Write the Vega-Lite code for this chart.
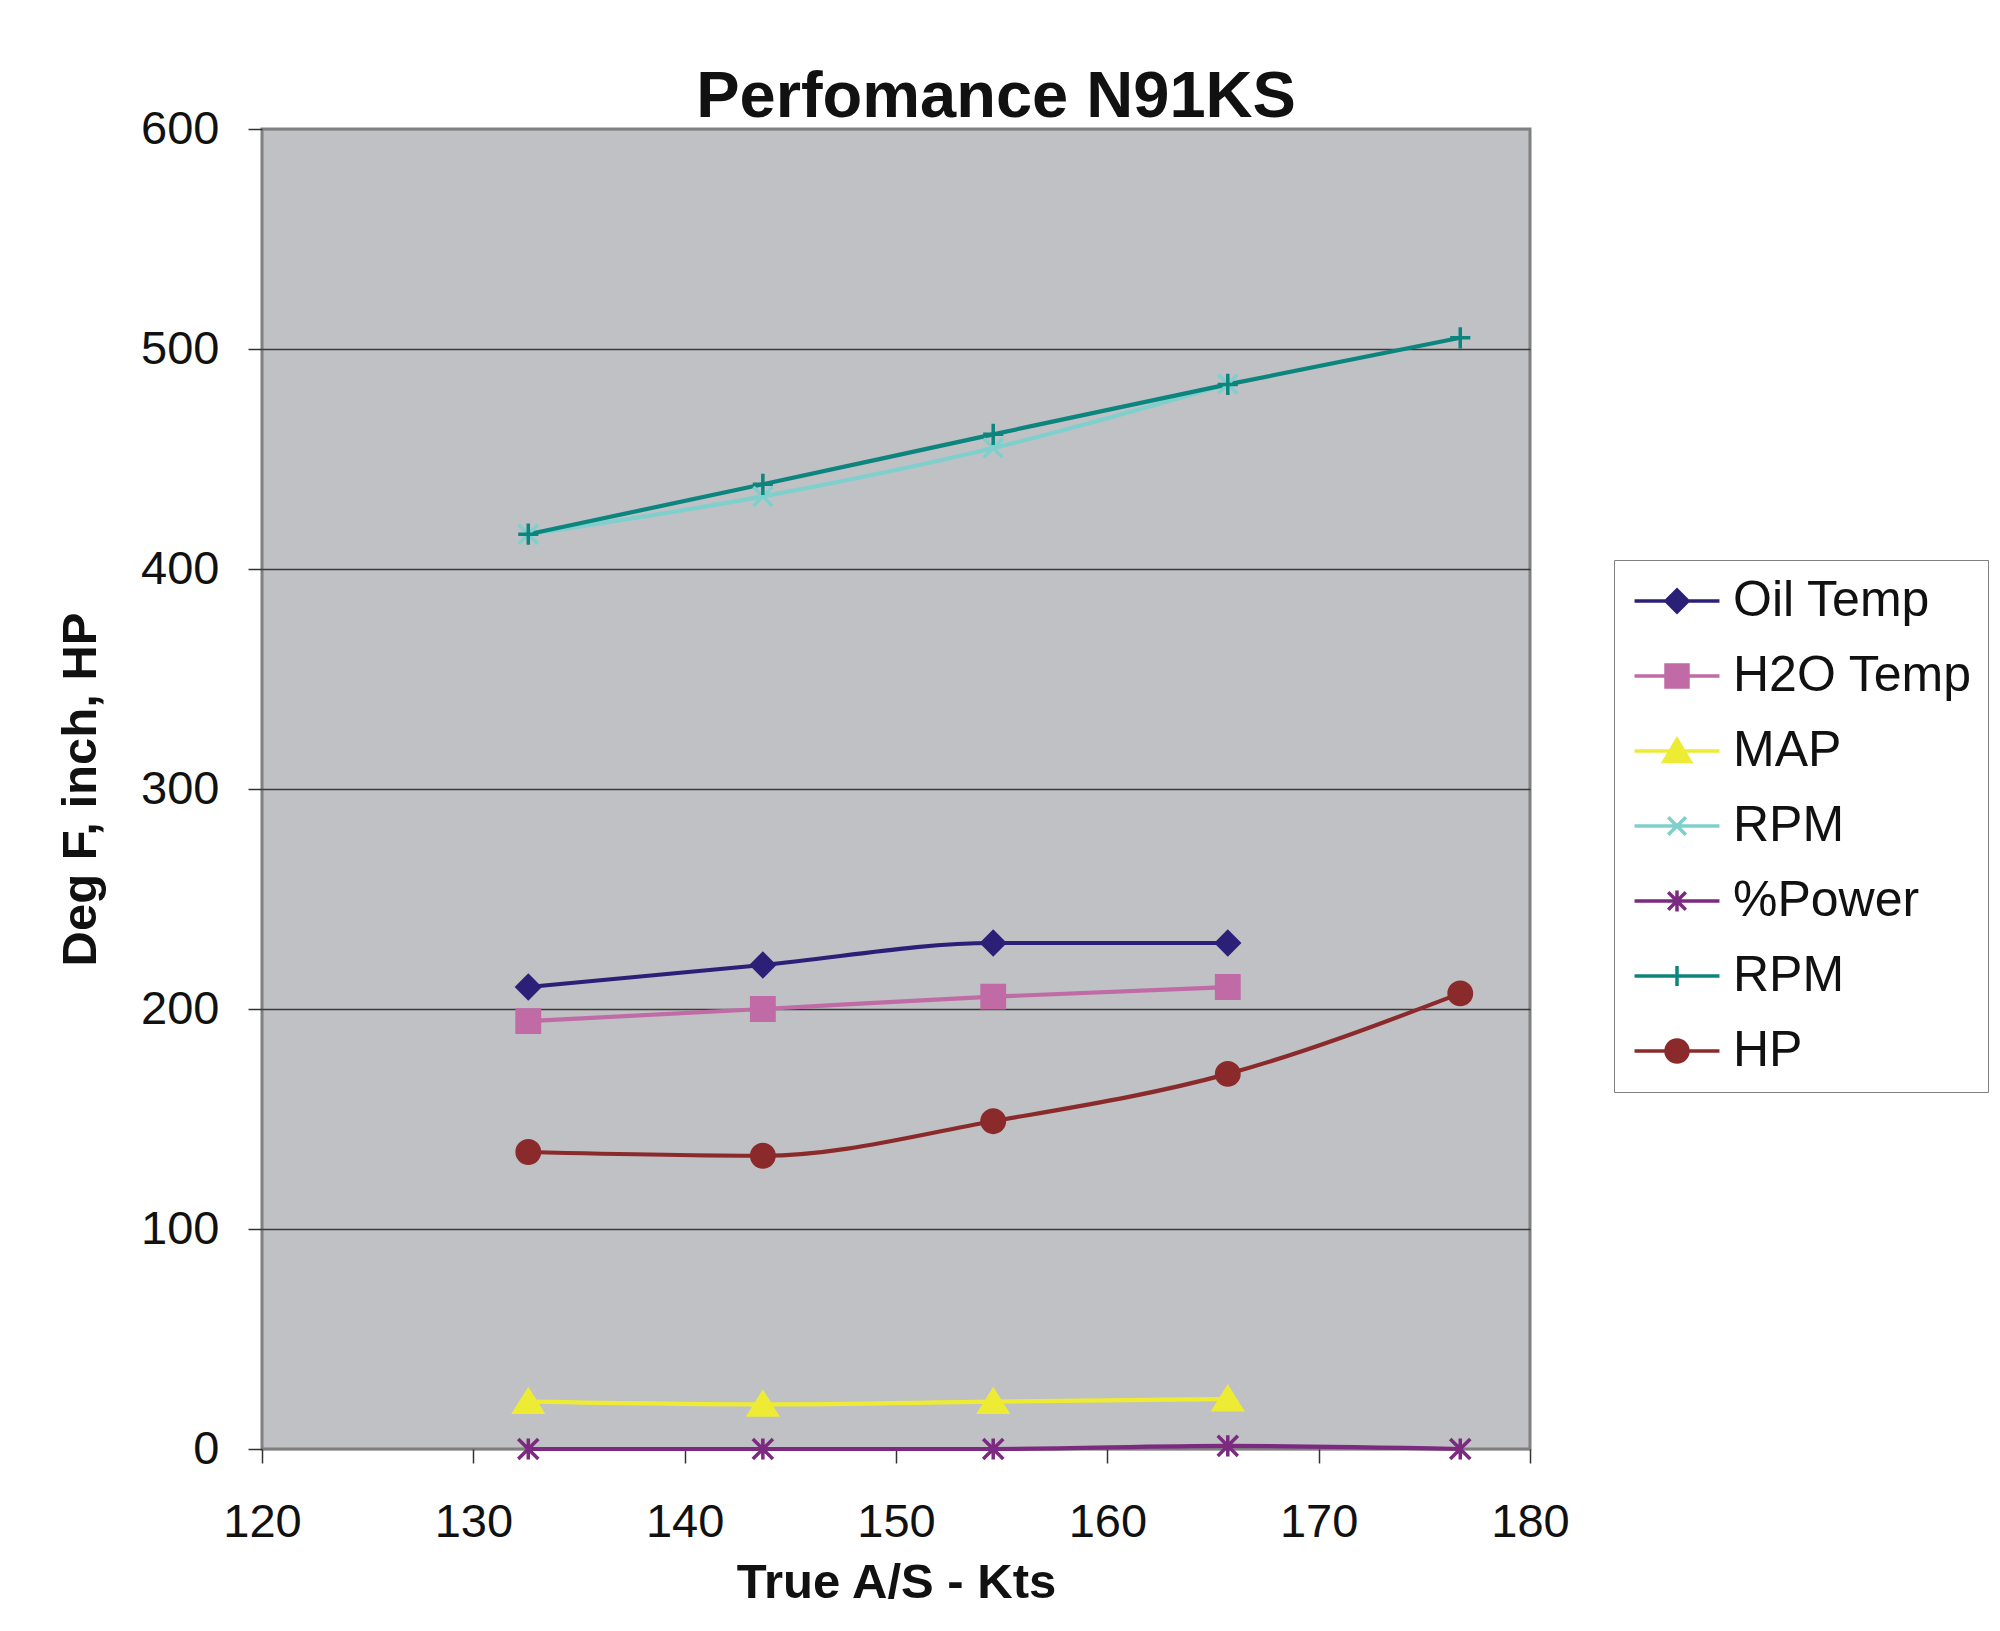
{
  "$schema": "https://vega.github.io/schema/vega-lite/v6.json",
  "width": 1268,
  "height": 1320,
  "autosize": {"type": "none"},
  "padding": {"left": 262, "top": 129, "right": 470, "bottom": 182},
  "background": "white",
  "title": {
    "text": "Perfomance N91KS",
    "font": "Liberation Sans",
    "fontSize": 65,
    "fontWeight": "bold",
    "color": "#111111",
    "anchor": "middle",
    "frame": "group",
    "dx": 100,
    "dy": 87,
    "offset": 10,
    "baseline": "alphabetic"
  },
  "config": {
    "view": {"fill": "#c0c1c5", "stroke": "#808080", "strokeWidth": 3},
    "axis": {
      "labelFont": "Liberation Sans",
      "labelFontSize": 47,
      "labelColor": "#111111",
      "titleFont": "Liberation Sans",
      "titleFontSize": 49,
      "titleFontWeight": "bold",
      "titleColor": "#111111",
      "tickColor": "#333333",
      "tickWidth": 1.5,
      "tickSize": 14,
      "domain": false,
      "labelFlush": false
    },
    "legend": {
      "orient": "none",
      "legendX": 1352,
      "legendY": 431,
      "labelFont": "Liberation Sans",
      "labelFontSize": 50,
      "labelColor": "#111111",
      "labelLimit": 500,
      "labelOffset": 31,
      "symbolOffset": 22,
      "symbolSize": 484,
      "symbolStrokeWidth": 3.5,
      "symbolOpacity": 1,
      "rowPadding": 25,
      "padding": 16,
      "strokeColor": "#808080",
      "fillColor": "white"
    }
  },
  "data": {
    "values": [
      {"tas": 132.6, "series": "Oil Temp", "value": 210},
      {"tas": 143.7, "series": "Oil Temp", "value": 220},
      {"tas": 154.6, "series": "Oil Temp", "value": 230},
      {"tas": 165.7, "series": "Oil Temp", "value": 230},
      {"tas": 132.6, "series": "H2O Temp", "value": 194.5},
      {"tas": 143.7, "series": "H2O Temp", "value": 200},
      {"tas": 154.6, "series": "H2O Temp", "value": 205.6},
      {"tas": 165.7, "series": "H2O Temp", "value": 210},
      {"tas": 132.6, "series": "MAP", "value": 21.5},
      {"tas": 143.7, "series": "MAP", "value": 20.3},
      {"tas": 154.6, "series": "MAP", "value": 21.5},
      {"tas": 165.7, "series": "MAP", "value": 22.7},
      {"tas": 132.6, "series": "RPM", "value": 415.8},
      {"tas": 143.7, "series": "RPM", "value": 433},
      {"tas": 154.6, "series": "RPM", "value": 455},
      {"tas": 165.7, "series": "RPM", "value": 484},
      {"tas": 132.6, "series": "%Power", "value": 0},
      {"tas": 143.7, "series": "%Power", "value": 0},
      {"tas": 154.6, "series": "%Power", "value": 0},
      {"tas": 165.7, "series": "%Power", "value": 1.4},
      {"tas": 176.7, "series": "%Power", "value": 0},
      {"tas": 132.6, "series": "RPM (2)", "value": 415.8},
      {"tas": 143.7, "series": "RPM (2)", "value": 438.5},
      {"tas": 154.6, "series": "RPM (2)", "value": 461.2},
      {"tas": 165.7, "series": "RPM (2)", "value": 483.9},
      {"tas": 176.7, "series": "RPM (2)", "value": 505.1},
      {"tas": 132.6, "series": "HP", "value": 135},
      {"tas": 143.7, "series": "HP", "value": 133.3},
      {"tas": 154.6, "series": "HP", "value": 149},
      {"tas": 165.7, "series": "HP", "value": 170.5},
      {"tas": 176.7, "series": "HP", "value": 207.1}
    ]
  },
  "encoding": {
    "x": {
      "field": "tas",
      "type": "quantitative",
      "title": "True A/S - Kts",
      "scale": {"domain": [120, 180], "nice": false, "zero": false},
      "axis": {
        "values": [120, 130, 140, 150, 160, 170, 180],
        "grid": false,
        "labelPadding": 36,
        "titlePadding": 13
      }
    },
    "y": {
      "field": "value",
      "type": "quantitative",
      "title": "Deg F, inch, HP",
      "scale": {"domain": [0, 600], "nice": false},
      "axis": {
        "values": [0, 100, 200, 300, 400, 500, 600],
        "grid": true,
        "gridColor": {"condition": {"test": "datum.value === 0 || datum.value === 600", "value": "#808080"}, "value": "#3a3a3a"},
        "gridWidth": 1.3,
        "labelPadding": 29,
        "titlePadding": 35
      }
    }
  },
  "layer": [
    {
      "mark": {"type": "line", "interpolate": "monotone", "strokeWidth": 4.2},
      "encoding": {
        "color": {
          "field": "series",
          "type": "nominal",
          "scale": {
            "domain": ["Oil Temp", "H2O Temp", "MAP", "RPM", "%Power", "RPM (2)", "HP"],
            "range": ["#2b2077", "#c06aa6", "#eeeb35", "#7fcfcd", "#7c2a80", "#0c857f", "#8b2a2b"]
          },
          "legend": null
        }
      }
    },
    {
      "mark": {"type": "point", "filled": true, "size": 500, "strokeWidth": 3.5, "opacity": 1},
      "encoding": {
        "color": {
          "field": "series",
          "type": "nominal",
          "scale": {
            "domain": ["Oil Temp", "H2O Temp", "MAP", "RPM", "%Power", "RPM (2)", "HP"],
            "range": ["#2b2077", "#c06aa6", "#eeeb35", "#7fcfcd", "#7c2a80", "#0c857f", "#8b2a2b"]
          },
          "legend": null
        },
        "shape": {
          "field": "series",
          "type": "nominal",
          "scale": {
            "domain": ["Oil Temp", "H2O Temp", "MAP", "RPM", "%Power", "RPM (2)", "HP"],
            "range": ["diamond", "square", "M0,-1.05L1.25,0.95H-1.25Z", "M-0.85,-0.85L0.85,0.85M-0.85,0.85L0.85,-0.85", "M-0.9,-0.9L0.9,0.9M-0.9,0.9L0.9,-0.9M0,-0.95V0.95", "M0,-0.95V0.95M-0.9,0H0.9", "circle"]
          },
          "legend": null
        },
        "stroke": {
          "field": "series",
          "type": "nominal",
          "scale": {
            "domain": ["Oil Temp", "H2O Temp", "MAP", "RPM", "%Power", "RPM (2)", "HP"],
            "range": ["#2b2077", "#c06aa6", "#eeeb35", "#7fcfcd", "#7c2a80", "#0c857f", "#8b2a2b"]
          },
          "legend": null
        }
      }
    },
    {
      "transform": [{"filter": "false"}],
      "mark": {"type": "point", "filled": true, "size": 484, "strokeWidth": 3.5, "opacity": 1},
      "encoding": {
        "color": {
          "field": "series",
          "type": "nominal",
          "scale": {
            "domain": ["Oil Temp", "H2O Temp", "MAP", "RPM", "%Power", "RPM (2)", "HP"],
            "range": ["#2b2077", "#c06aa6", "#eeeb35", "#7fcfcd", "#7c2a80", "#0c857f", "#8b2a2b"]
          },
          "legend": {"title": null, "labelExpr": "replace(datum.label, ' (2)', '')"}
        },
        "shape": {
          "field": "series",
          "type": "nominal",
          "scale": {
            "domain": ["Oil Temp", "H2O Temp", "MAP", "RPM", "%Power", "RPM (2)", "HP"],
            "range": [
              "M-3.86,0H3.86M0,-1L1,0L0,1L-1,0Z",
              "M-3.86,0H3.86M-1,-1H1V1H-1Z",
              "M-3.86,0H3.86M0,-1.05L1.2,0.95H-1.2Z",
              "M-3.86,0H3.86M-0.8,-0.8L0.8,0.8M-0.8,0.8L0.8,-0.8",
              "M-3.86,0H3.86M-0.8,-0.8L0.8,0.8M-0.8,0.8L0.8,-0.8M0,-0.95V0.95",
              "M-3.86,0H3.86M0,-0.9V0.9",
              "M-3.86,0H3.86M-1,0A1,1 0 1,0 1,0A1,1 0 1,0 -1,0Z"
            ]
          },
          "legend": {"title": null, "labelExpr": "replace(datum.label, ' (2)', '')"}
        },
        "stroke": {
          "field": "series",
          "type": "nominal",
          "scale": {
            "domain": ["Oil Temp", "H2O Temp", "MAP", "RPM", "%Power", "RPM (2)", "HP"],
            "range": ["#2b2077", "#c06aa6", "#eeeb35", "#7fcfcd", "#7c2a80", "#0c857f", "#8b2a2b"]
          },
          "legend": {"title": null, "labelExpr": "replace(datum.label, ' (2)', '')"}
        }
      }
    }
  ],
  "resolve": {"scale": {"color": "independent", "shape": "independent", "stroke": "independent"}}
}
